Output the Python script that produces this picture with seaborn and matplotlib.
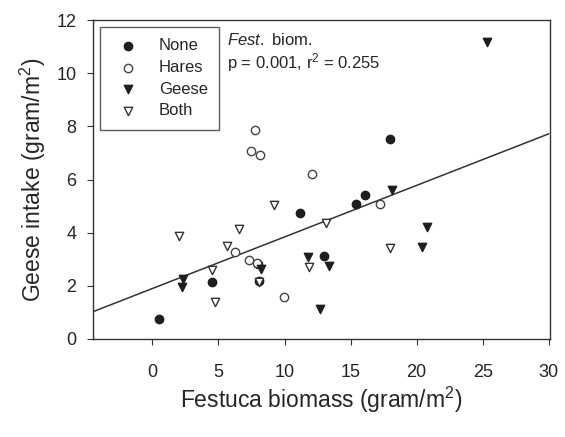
import matplotlib
matplotlib.use("Agg")
import matplotlib.pyplot as plt
import seaborn as sns
import numpy as np
import pandas as pd

sns.set_style("ticks")
plt.rcParams['font.family'] = ['Liberation Sans', 'DejaVu Sans']
plt.rcParams['mathtext.fontset'] = 'custom'
plt.rcParams['mathtext.rm'] = 'Liberation Sans'
plt.rcParams['mathtext.it'] = 'Liberation Sans:italic'

# data
none_x = [0.48, 4.48, 7.98, 8.1, 11.2, 13.0, 15.41, 16.06, 17.97]
none_y = [0.76, 2.15, 2.81, 2.2, 4.74, 3.13, 5.08, 5.41, 7.51]
hares_x = [7.74, 7.43, 8.18, 12.08, 6.27, 7.30, 7.88, 9.99, 17.19]
hares_y = [7.88, 7.08, 6.92, 6.19, 3.28, 2.96, 2.87, 1.59, 5.08]
geese_x = [2.31, 2.22, 8.23, 11.76, 13.34, 12.69, 25.3, 18.13, 20.82, 20.44]
geese_y = [2.26, 1.97, 2.62, 3.09, 2.76, 1.13, 11.18, 5.60, 4.20, 3.47]
both_x = [2.0, 4.76, 4.5, 5.64, 6.54, 9.24, 13.14, 11.83, 17.97, 8.1]
both_y = [3.88, 1.40, 2.59, 3.50, 4.12, 5.04, 4.37, 2.71, 3.41, 2.15]

fit_intercept = 1.90
fit_slope = 0.194
fit_x = [-4.5, 30.0]

x_ticks = [0, 5, 10, 15, 20, 25, 30]
y_ticks = [0, 2, 4, 6, 8, 10, 12]

fig = plt.figure(figsize=(5.65, 4.37), dpi=100)
ax = fig.add_axes([0.1646, 0.2243, 0.8089, 0.7297])

dark = '#1e1e1e'
line_df = pd.DataFrame({'x': fit_x, 'y': [fit_intercept + fit_slope * v for v in fit_x]})
sns.lineplot(data=line_df, x='x', y='y', ax=ax, color='#333333', lw=1.1, zorder=1)

groups = [
    ('None', none_x, none_y, 'o', dark, dark),
    ('Hares', hares_x, hares_y, 'o', 'white', '#444444'),
    ('Geese', geese_x, geese_y, 'v', dark, dark),
    ('Both', both_x, both_y, 'v', 'white', '#333333'),
]
for name, gx, gy, m, fc, ec in groups:
    sns.scatterplot(x=gx, y=gy, ax=ax, marker=m, s=36, color=fc,
                    edgecolor=ec, linewidth=1.0, label=name, zorder=3)

ax.set_xlim(-4.5, 30.1)
ax.set_ylim(0, 12)
ax.set_xticks(x_ticks)
ax.set_yticks(y_ticks)
ax.tick_params(axis='both', labelsize=13, length=4, width=0.8, color='#333333')
ax.tick_params(axis='x', pad=14)
ax.tick_params(axis='y', pad=8)
for s in ax.spines.values():
    s.set_color('#333333')
    s.set_linewidth(1.0)

ax.set_xlabel('Festuca biomass (gram/m$^2$)', fontsize=16.5, labelpad=3)
ax.set_ylabel('Geese intake (gram/m$^2$)', fontsize=16.5, labelpad=6)

leg = ax.legend(loc='upper left', bbox_to_anchor=(0.0, 1.0), fontsize=12,
                frameon=True, fancybox=False, edgecolor='#333333',
                handletextpad=0.85, labelspacing=0.4, borderpad=0.7,
                handlelength=2.0, borderaxespad=0.4)
leg.get_frame().set_linewidth(1.0)

ax.text(0.293, 0.937, r'$\it{Fest.}$ biom.', transform=ax.transAxes, fontsize=12,
        va='center', ha='left', zorder=6)
ax.text(0.293, 0.868, r'p = 0.001, r$^2$ = 0.255', transform=ax.transAxes, fontsize=12,
        va='center', ha='left', zorder=6)

fig.savefig('out.png', dpi=100)
